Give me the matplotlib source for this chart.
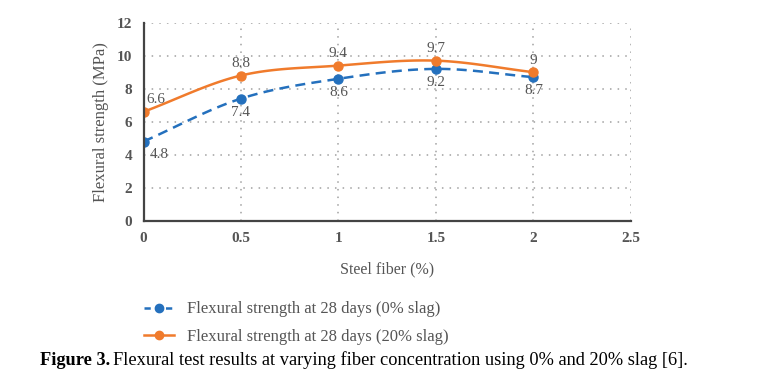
import numpy as np
import matplotlib.pyplot as plt
from matplotlib.lines import Line2D

# data
fiber = [0, 0.5, 1, 1.5, 2]
slag0 = [4.8, 7.4, 8.6, 9.2, 8.7]
slag20 = [6.6, 8.8, 9.4, 9.7, 9]
label0 = 'Flexural strength at 28 days (0% slag)'
label20 = 'Flexural strength at 28 days (20% slag)'

blue = '#2470bd'
orange = '#f07b2c'
gray = '#555555'
serif = 'Liberation Serif'


def smooth(x, y, n=30):
    # Catmull-Rom spline through the points, like Excel's smoothed line
    x = np.asarray(x, float)
    y = np.asarray(y, float)
    px = np.concatenate([[2 * x[0] - x[1]], x, [2 * x[-1] - x[-2]]])
    py = np.concatenate([[2 * y[0] - y[1]], y, [2 * y[-1] - y[-2]]])
    xs, ys = [], []
    t = np.linspace(0, 1, n)
    for i in range(1, len(px) - 2):
        for p, out in ((px, xs), (py, ys)):
            p0, p1, p2, p3 = p[i - 1], p[i], p[i + 1], p[i + 2]
            out.extend(0.5 * (2 * p1 + (-p0 + p2) * t
                              + (2 * p0 - 5 * p1 + 4 * p2 - p3) * t ** 2
                              + (-p0 + 3 * p1 - 3 * p2 + p3) * t ** 3))
    return xs, ys


fig = plt.figure(figsize=(7.61, 3.86), dpi=100)
ax = fig.add_axes([0.1886, 0.4282, 0.6404, 0.513])

sx, sy = smooth(fiber, slag0)
ax.plot(sx, sy, color=blue, lw=1.8, ls=(0, (4, 2.5)))
ax.plot(fiber, slag0, 'o', color=blue, ms=6.5)
sx, sy = smooth(fiber, slag20)
ax.plot(sx, sy, color=orange, lw=1.8)
ax.plot(fiber, slag20, 'o', color=orange, ms=6.5)

for x, y in zip(fiber, slag0):
    dx = 11 if x == 0 else 0
    ax.annotate(f'{y:g}', (x, y), xytext=(dx, -5), textcoords='offset points',
                ha='center', va='top', fontsize=11, color=gray, family=serif)
for x, y in zip(fiber, slag20):
    dx = 9 if x == 0 else 0
    ax.annotate(f'{y:g}', (x, y), xytext=(dx, 4), textcoords='offset points',
                ha='center', va='bottom', fontsize=11, color=gray, family=serif)

ax.set_xlim(0, 2.5)
ax.set_ylim(0, 12)
ax.set_xticks([0, 0.5, 1, 1.5, 2, 2.5])
ax.set_xticklabels(['0', '0.5', '1', '1.5', '2', '2.5'])
ax.set_yticks(range(0, 13, 2))
ax.grid(True, color='#a0a0a0', ls=(0, (1, 4)), lw=1.1)
for s in ['top', 'right']:
    ax.spines[s].set_visible(False)
for s in ['left', 'bottom']:
    ax.spines[s].set_color('#444444')
    ax.spines[s].set_linewidth(1.6)
ax.tick_params(length=0, pad=8, labelsize=11, labelcolor=gray)
for lab in ax.get_xticklabels() + ax.get_yticklabels():
    lab.set_family(serif)
    lab.set_fontweight('bold')
ax.set_xlabel('Steel fiber (%)', fontsize=11.5, color=gray, family=serif, labelpad=12)
ax.set_ylabel('Flexural strength (MPa)', fontsize=12, color=gray, family=serif, labelpad=6)

handles = [
    Line2D([], [], color=blue, lw=1.8, ls=(0, (2.5, 1.8)), marker='o', ms=6),
    Line2D([], [], color=orange, lw=1.8, marker='o', ms=6),
]
fig.legend(handles, [label0, label20], loc='upper left', bbox_to_anchor=(0.170, 0.258),
           frameon=False, prop={'family': serif, 'size': 12}, labelcolor=gray,
           handlelength=1.8, handletextpad=0.75, labelspacing=0.7)

# caption with bold "Figure 3."
fig.canvas.draw()
r = fig.canvas.get_renderer()
t1 = fig.text(0.052, 0.055, 'Figure 3.', fontsize=13.2, fontweight='bold',
              family=serif, color='black', va='baseline')
bb = t1.get_window_extent(r)
fig.text((bb.x1 + 3) / fig.bbox.width, 0.055,
         'Flexural test results at varying fiber concentration using 0% and 20% slag [6].',
         fontsize=13.2, family=serif, color='black', va='baseline')

fig.savefig('out.png', dpi=100)
